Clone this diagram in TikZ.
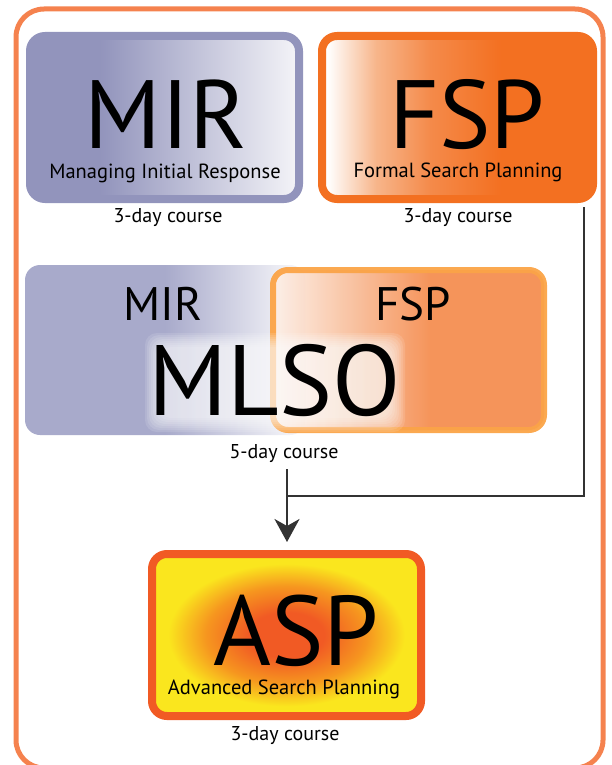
\documentclass[tikz,border=0pt]{standalone}
\usepackage{fontspec}
\setmainfont{PT Sans}
\usetikzlibrary{arrows.meta,calc}
\definecolor{framec}{HTML}{F5824E}
\definecolor{mirc}{HTML}{9294BC}
\definecolor{mirend}{HTML}{F4F4F8}
\definecolor{fspc}{HTML}{F37021}
\definecolor{fspmid}{HTML}{F7B58A}
\definecolor{fspmid2}{HTML}{F48A4A}
\definecolor{mlsop}{HTML}{A8AACB}
\definecolor{mlsopend}{HTML}{F2F2F7}
\definecolor{mlsoo}{HTML}{F48C4E}
\definecolor{mlsoostart}{HTML}{FDF0E8}
\definecolor{mlsooline}{HTML}{FBA447}
\definecolor{aspline}{HTML}{F15A24}
\definecolor{aspc}{HTML}{F15A24}
\definecolor{aspm}{HTML}{F6961F}
\definecolor{aspy}{HTML}{FAE61E}
\definecolor{linec}{HTML}{333333}
\pgfdeclarehorizontalshading{mirsh}{100bp}{color(0bp)=(mirc); color(38bp)=(mirc); color(75bp)=(mirend); color(100bp)=(mirend)}
\pgfdeclarehorizontalshading{fspsh}{100bp}{color(0bp)=(white); color(26bp)=(white); color(35bp)=(fspmid); color(45bp)=(fspmid2); color(58bp)=(fspc); color(100bp)=(fspc)}
\pgfdeclarehorizontalshading{mlsopsh}{100bp}{color(0bp)=(mlsop); color(50bp)=(mlsop); color(72bp)=(mlsopend); color(100bp)=(mlsopend)}
\pgfdeclarehorizontalshading{mlsoosh}{100bp}{color(0bp)=(mlsoostart); color(25bp)=(mlsoostart); color(54bp)=(mlsoo); color(100bp)=(mlsoo)}
\pgfdeclareradialshading{aspsh}{\pgfpoint{0bp}{0bp}}{color(0bp)=(aspc); color(7bp)=(aspc); color(15bp)=(aspm); color(22bp)=(aspy); color(50bp)=(aspy)}
\tikzset{
  box/.style={rounded corners=15pt, inner sep=0pt},
  txt/.style={anchor=base, inner sep=0pt},
  big/.style={txt, font=\fontsize{97}{97}\selectfont},
  mid/.style={txt, font=\fontsize{47}{47}\selectfont},
  sub/.style={txt, font=\fontsize{20.5}{21}\selectfont},
  days/.style={txt, font=\fontsize{20}{21}\selectfont},
  conn/.style={draw=linec, line width=2.5pt}
}
\begin{document}
\begin{tikzpicture}[x=1pt,y=-1pt]
\useasboundingbox (0,0) rectangle (611,765);
% outer frame
\draw[framec, line width=5pt, rounded corners=28pt] (16,9) rectangle (603,768);
% top boxes
\node[box, draw=mirc, line width=8pt, shading=mirsh, minimum width=269pt, minimum height=163pt] (mir) at (164.5,117.5) {};
\node[box, draw=fspc, line width=8pt, shading=fspsh, minimum width=271pt, minimum height=163pt] (fsp) at (457.5,117.5) {};
\node[big] (mirt) at (166,148) {MIR};
\node[sub] (mirs) at (165,178) {Managing Initial Response};
\node[days] (mird) at (168,222) {3-day course};
\node[big] (fspt) at (467,148) {FSP};
\node[sub] (fsps) at (458,177) {Formal Search Planning};
\node[days] (fspd) at (458,222) {3-day course};
% MLSO
\node[box, shading=mlsopsh, minimum width=280pt, minimum height=170pt] (mlsop) at (165,350) {};
\node[box, draw=mlsooline, line width=6pt, draw opacity=0.95, fill opacity=0.93, shading=mlsoosh, minimum width=271pt, minimum height=160pt] (mlsoo) at (408.5,350) {};
\foreach \i in {0,...,7}
  \fill[white, opacity=0.12, rounded corners=12pt] (145+2*\i,333+2*\i) rectangle (405-2*\i,432-2*\i);
\node[mid] (mlsomir) at (163,320) {MIR};
\node[mid] (mlsofsp) at (413,320) {FSP};
\node[txt, font=\fontsize{100}{100}\selectfont] (mlsot) at (275,415) {MLSO};
\node[days] (mlsod) at (284,458) {5-day course};
% ASP
\node[box, draw=aspline, line width=8pt, shading=aspsh, minimum width=269pt, minimum height=162pt] (asp) at (286.5,635) {};
\node[txt, font=\fontsize{99}{99}\selectfont] (aspt) at (296,665) {ASP};
\node[sub] (asps) at (284,694) {Advanced Search Planning};
\node[days] (aspd) at (285,740) {3-day course};
% connectors
\coordinate (j2) at (287,496);
\draw[conn] ($(fsp.south east)+(-13,4)$) |- (j2);
\draw[conn] (mlsod.south -| j2) ++(0,7) -- (j2);
\draw[conn, -{Stealth[length=23pt, width=25pt, inset=7pt]}] (j2) -- ($(asp.north)+(0.5,-8)$);
\end{tikzpicture}
\end{document}
